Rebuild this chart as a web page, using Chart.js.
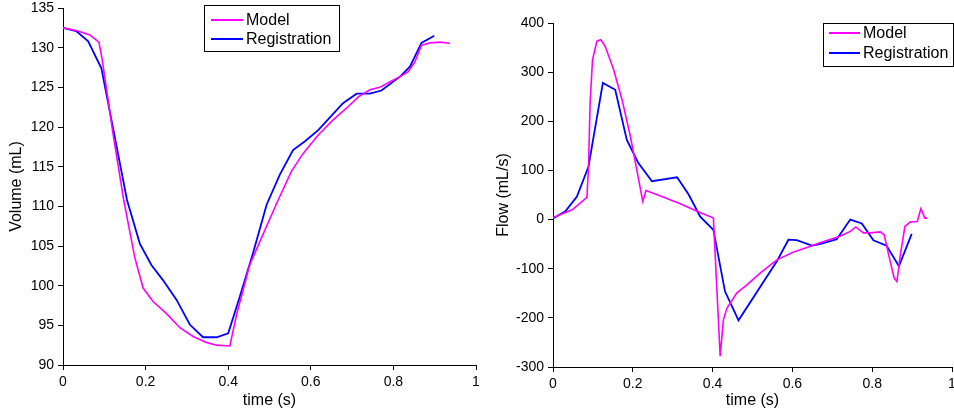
<!DOCTYPE html>
<html>
<head>
<meta charset="utf-8">
<script src="https://cdn.jsdelivr.net/npm/chart.js@4"></script>
<style>
  body { margin: 0; background: #fff; }
  #wrap { position: relative; width: 954px; height: 416px; }
  canvas { position: absolute; top: 0; }
  #volume-chart { left: 0; }
  #flow-chart { left: 480px; }
</style>
</head>
<body>
<div id="wrap">
  <canvas id="volume-chart" width="480" height="416"></canvas>
  <canvas id="flow-chart" width="474" height="416"></canvas>
</div>
<script>
// Volume (left chart)
const modelVolT = [0, 0.036, 0.065, 0.087, 0.095, 0.121, 0.147, 0.174, 0.194, 0.218, 0.25, 0.283, 0.315, 0.347, 0.372, 0.404, 0.421, 0.452, 0.493, 0.521, 0.553, 0.582, 0.618, 0.654, 0.687, 0.715, 0.743, 0.767, 0.792, 0.816, 0.836, 0.852, 0.868, 0.888, 0.913, 0.937];
const modelVol = [132.5, 132.1, 131.6, 130.7, 128.45, 119.2, 110.8, 103.5, 99.7, 98.0, 96.5, 94.7, 93.6, 92.85, 92.5, 92.4, 96.5, 102.6, 107.5, 110.8, 114.4, 116.7, 119.0, 120.9, 122.4, 123.8, 124.7, 125.0, 125.7, 126.35, 126.98, 128.2, 130.3, 130.6, 130.7, 130.55];
const regVolT = [0, 0.032, 0.061, 0.093, 0.155, 0.186, 0.214, 0.242, 0.275, 0.307, 0.339, 0.372, 0.40, 0.428, 0.46, 0.493, 0.525, 0.557, 0.586, 0.618, 0.678, 0.711, 0.743, 0.771, 0.816, 0.84, 0.868, 0.899];
const regVol = [132.5, 132.1, 130.8, 127.4, 110.8, 105.3, 102.6, 100.7, 98.2, 95.1, 93.5, 93.5, 94.0, 98.6, 104.1, 110.2, 114.0, 117.1, 118.2, 119.6, 123.0, 124.2, 124.2, 124.6, 126.35, 127.6, 130.6, 131.5];

// Flow (right chart)
const modelFlowT = [0, 0.048, 0.085, 0.089, 0.093, 0.099, 0.110, 0.120, 0.131, 0.152, 0.173, 0.194, 0.210, 0.225, 0.233, 0.273, 0.319, 0.361, 0.402, 0.412, 0.419, 0.427, 0.436, 0.461, 0.486, 0.519, 0.561, 0.603, 0.644, 0.669, 0.719, 0.745, 0.759, 0.778, 0.795, 0.820, 0.830, 0.845, 0.855, 0.862, 0.870, 0.882, 0.895, 0.913, 0.922, 0.932, 0.938];
const modelFlow = [4, 20, 45, 108, 237, 325, 363, 366, 352, 305, 244, 169, 101, 37, 59, 47, 32, 17, 3, -163, -278, -204, -180, -149, -133, -109, -82, -66, -55, -47, -34, -24, -15, -27, -27, -25, -31, -85, -119, -126, -75, -14, -5, -4, 22, 3, 3];
const regFlowT = [0, 0.031, 0.060, 0.089, 0.125, 0.156, 0.185, 0.214, 0.248, 0.311, 0.340, 0.369, 0.402, 0.431, 0.465, 0.561, 0.590, 0.611, 0.649, 0.669, 0.711, 0.745, 0.774, 0.803, 0.836, 0.867, 0.899];
const regFlow = [2, 17, 47, 108, 278, 264, 162, 115, 78, 86, 51, 6, -21, -146, -205, -85, -41, -42, -53, -50, -40, 0, -8, -42, -53, -95, -29];

const seriesNames = ['Model', 'Registration'];
const seriesColors = ['#ff00ff', '#0000ff'];

const FONT = '"Liberation Sans", Arial, sans-serif';

const toPoints = (xs, ys) => xs.map((x, i) => ({ x: x, y: ys[i] }));

// Excel-style boxed legend
const boxedLegend = {
  id: 'boxedLegend',
  afterDraw(chart, args, opts) {
    const ctx = chart.ctx;
    ctx.save();
    ctx.fillStyle = '#fff';
    ctx.fillRect(opts.x, opts.y, opts.w, opts.h);
    ctx.strokeStyle = '#000';
    ctx.lineWidth = 1;
    ctx.strokeRect(opts.x + 0.5, opts.y + 0.5, opts.w, opts.h);
    ctx.font = '16px ' + FONT;
    ctx.textBaseline = 'middle';
    chart.data.datasets.forEach((ds, i) => {
      const rowY = opts.y + opts.firstRow + i * opts.rowGap;
      ctx.strokeStyle = ds.borderColor;
      ctx.lineWidth = 2;
      ctx.beginPath();
      ctx.moveTo(opts.x + opts.lineStart, rowY);
      ctx.lineTo(opts.x + opts.lineStart + opts.lineLen, rowY);
      ctx.stroke();
      ctx.fillStyle = '#000';
      ctx.fillText(ds.label, opts.x + opts.lineStart + opts.lineLen + 3, rowY + 1);
    });
    ctx.restore();
  }
};

const makeChart = (canvasId, cfg) => {
  const ctx = document.getElementById(canvasId).getContext('2d');
  return new Chart(ctx, {
    type: 'line',
    data: {
      datasets: [
        {
          label: seriesNames[0],
          data: cfg.model,
          borderColor: seriesColors[0],
          borderWidth: 1.6,
          pointRadius: 0,
          tension: 0,
          fill: false
        },
        {
          label: seriesNames[1],
          data: cfg.reg,
          borderColor: seriesColors[1],
          borderWidth: 1.8,
          pointRadius: 0,
          tension: 0,
          fill: false
        }
      ]
    },
    options: {
      responsive: false,
      animation: false,
      devicePixelRatio: 1,
      layout: { padding: { left: 0, right: cfg.padRight, top: cfg.padTop, bottom: 0 } },
      scales: {
        x: {
          type: 'linear',
          min: 0,
          max: 1,
          ticks: {
            stepSize: 0.2,
            color: '#000',
            font: { family: FONT, size: 14 },
            padding: 4,
            maxRotation: 0,
            callback: (v) => String(Math.round(v * 10) / 10)
          },
          grid: { display: true, drawOnChartArea: false, drawTicks: true, tickLength: 5, color: '#000' },
          border: { color: '#000', width: 1 },
          title: { display: true, text: 'time (s)', color: '#000', font: { family: FONT, size: 16 }, padding: { top: 6, bottom: 6 } },
          afterFit: (scale) => {
            scale.height = cfg.xHeight;
            scale.paddingLeft = 0;
            scale.paddingRight = 0;
          }
        },
        y: {
          min: cfg.yMin,
          max: cfg.yMax,
          ticks: { stepSize: cfg.yStep, color: '#000', font: { family: FONT, size: 14 }, padding: 4 },
          grid: { display: true, drawOnChartArea: false, drawTicks: true, tickLength: 5, color: '#000' },
          border: { color: '#000', width: 1 },
          title: { display: true, text: cfg.yTitle, color: '#000', font: { family: FONT, size: 16 }, padding: { top: cfg.yTitlePad, bottom: 4 } },
          afterFit: (scale) => {
            scale.width = cfg.yWidth;
            scale.paddingTop = 0;
            scale.paddingBottom = 0;
          }
        }
      },
      plugins: {
        legend: { display: false },
        tooltip: { enabled: false },
        boxedLegend: cfg.legend
      }
    },
    plugins: [boxedLegend]
  });
};

makeChart('volume-chart', {
  model: toPoints(modelVolT, modelVol),
  reg: toPoints(regVolT, regVol),
  yMin: 90, yMax: 135, yStep: 5,
  yTitle: 'Volume (mL)',
  yTitlePad: 7,
  yWidth: 63, xHeight: 51,
  padRight: 4, padTop: 8,
  legend: { x: 204, y: 5, w: 135, h: 46, firstRow: 15, rowGap: 19, lineStart: 7, lineLen: 32 }
});

makeChart('flow-chart', {
  model: toPoints(modelFlowT, modelFlow),
  reg: toPoints(regFlowT, regFlow),
  yMin: -300, yMax: 400, yStep: 100,
  yTitle: 'Flow (mL/s)',
  yTitlePad: 14,
  yWidth: 73, xHeight: 49,
  padRight: 2, padTop: 23,
  legend: { x: 343, y: 23, w: 130, h: 43, firstRow: 10, rowGap: 20, lineStart: 6, lineLen: 31 }
});
</script>
</body>
</html>
